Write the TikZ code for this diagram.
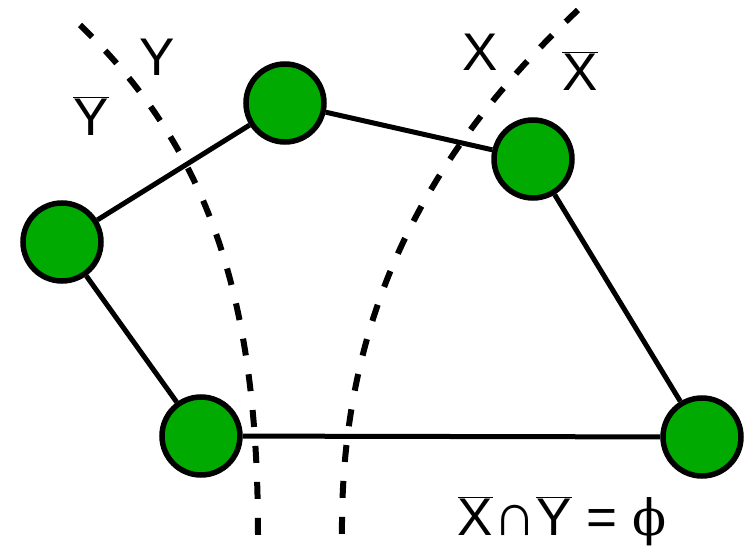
\documentclass[tikz,border=0pt]{standalone}
\usepackage{fontspec}
\setmainfont{Liberation Sans}
\newfontfamily\phifont{DejaVu Serif}
\definecolor{nodegreen}{RGB}{0,170,0}
\newcommand{\barred}[1]{$\overline{\mbox{#1}}$}
\begin{document}
\begin{tikzpicture}[x=1pt,y=-1pt]
    % 定义样式
    \tikzstyle{vertex}=[circle, draw=black, line width=5.5pt, fill=nodegreen, minimum size=78pt, inner sep=0pt]
    \tikzstyle{edge}=[line width=5pt, black]
    \tikzstyle{cut}=[line width=6pt, dash pattern=on 17pt off 19pt]
    \tikzstyle{lbl}=[anchor=base, inner sep=0pt, font=\fontsize{53}{60}\selectfont]

    \useasboundingbox (0,0) rectangle (745,546);

    % 割线 (Y 与 X)
    \draw[cut] (80,25) .. controls (210,150) and (258,300) .. (258,535);
    \draw[cut] (578,10) .. controls (440,140) and (340,300) .. (342,535);

    % 顶点
    \node[vertex] (a) at (62,242) {};
    \node[vertex] (b) at (285,103) {};
    \node[vertex] (c) at (533,159) {};
    \node[vertex] (d) at (201,436) {};
    \node[vertex] (e) at (702,437) {};

    % 边
    \draw[edge] (a) -- (b);
    \draw[edge] (b) -- (c);
    \draw[edge] (c) -- (e);
    \draw[edge] (e) -- (d);
    \draw[edge] (d) -- (a);

    % 标签
    \node[lbl] (ly) at (157,75) {Y};
    \node[lbl] (lybar) at (91,135) {\barred{Y}};
    \node[lbl] (lx) at (480,70) {X};
    \node[lbl] (lxbar) at (580,90) {\barred{X}};
    \node[lbl] (eq) at (562,535) {\barred{X}{\fontsize{60}{60}\selectfont ∩}\barred{Y} = {\phifont\fontsize{50}{60}\selectfont ϕ}};
\end{tikzpicture}
\end{document}
